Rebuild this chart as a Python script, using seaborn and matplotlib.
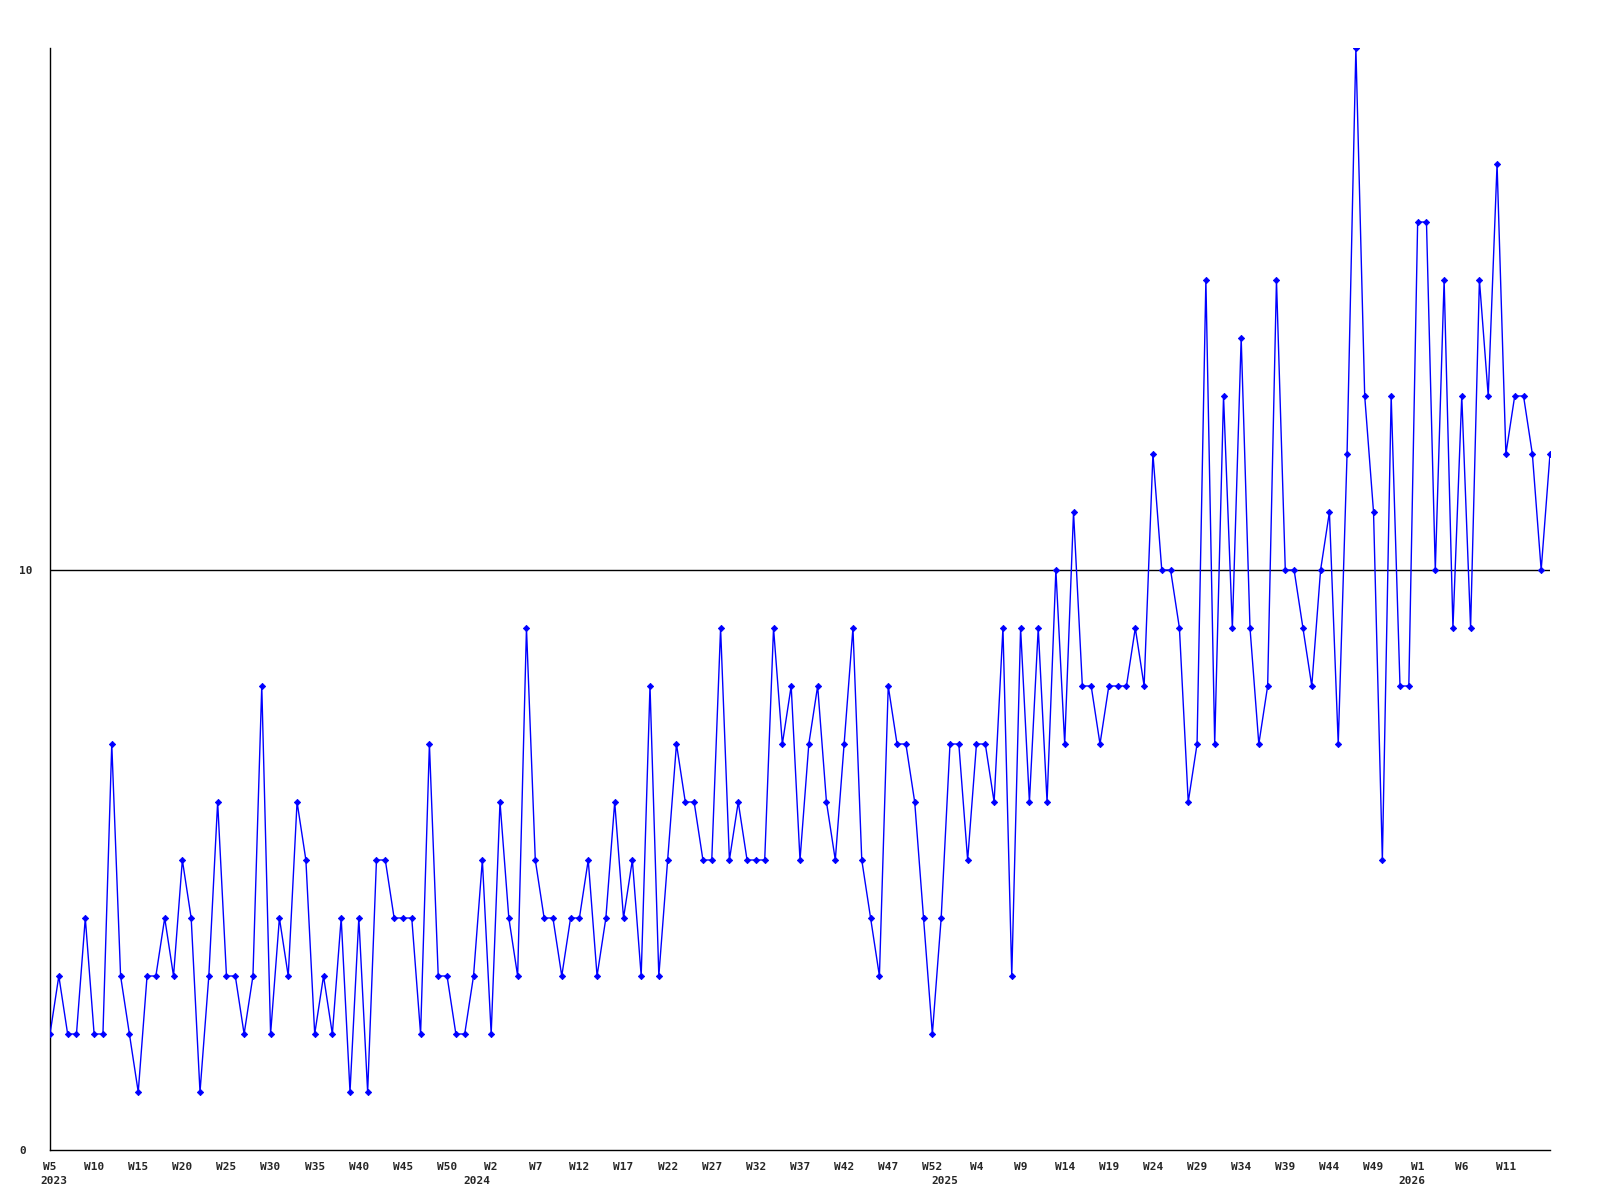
import matplotlib
matplotlib.use("Agg")
import matplotlib.pyplot as plt
import matplotlib.transforms as mtransforms
import numpy as np
import seaborn as sns

# weekly counts, 2023 W5 .. 2026 W16
counts = [2, 3, 2, 2, 4, 2, 2, 7, 3, 2, 1, 3, 3, 4, 3, 5, 4, 1, 3, 6, 3, 3,
          2, 3, 8, 2, 4, 3, 6, 5, 2, 3, 2, 4, 1, 4, 1, 5, 5, 4, 4, 4, 2, 7,
          3, 3, 2, 2, 3, 5, 2, 6, 4, 3, 9, 5, 4, 4, 3, 4, 4, 5, 3, 4, 6,
          4, 5, 3, 8, 3, 5, 7, 6, 6, 5, 5, 9, 5, 6, 5, 5, 5, 9, 7, 8, 5, 7,
          8, 6, 5, 7, 9, 5, 4, 3, 8, 7, 7, 6, 4, 2, 4, 7, 7, 5, 7, 7, 6,
          9, 3, 9, 6, 9, 6, 10, 7, 11, 8, 8, 7, 8, 8, 8, 9,
          8, 12, 10, 10, 9, 6, 7, 15, 7, 13, 9, 14, 9, 7, 8, 15,
          10, 10, 9, 8, 10, 11, 7, 12, 19, 13, 11, 5, 13, 8, 8,
          16, 16, 10, 15, 9, 13, 9, 15, 13, 17, 12, 13, 13, 12, 10, 12]

week_labels = ['W5', 'W10', 'W15', 'W20', 'W25', 'W30', 'W35', 'W40', 'W45', 'W50',
               'W2', 'W7', 'W12', 'W17', 'W22', 'W27', 'W32', 'W37', 'W42', 'W47', 'W52',
               'W4', 'W9', 'W14', 'W19', 'W24', 'W29', 'W34', 'W39', 'W44', 'W49',
               'W1', 'W6', 'W11']
years = ['2023', '2024', '2025', '2026']
year_pos = [0, 48, 101, 154]

sns.set_style("white")
plt.rcParams['font.family'] = ['DejaVu Sans Mono']

fig = plt.figure(figsize=(16, 12), dpi=100)
ax = fig.add_axes([50 / 1600, 50 / 1200, 1500 / 1600, 1102 / 1200])

x = np.arange(len(counts))
ax.axhline(10, color='black', linewidth=1, zorder=1)
sns.lineplot(x=x, y=counts, ax=ax, color='#0000ff', linewidth=1.0,
             marker='D', markersize=3.2, markeredgewidth=0.6,
             markeredgecolor='#0000ff', zorder=3)

ax.set_xlim(0, len(counts) - 1)
ax.set_ylim(0, 19)

ax.set_xticks(np.arange(0, len(counts) - 1, 5))
ax.set_xticklabels(week_labels, fontsize=8, fontweight='bold')
ax.set_yticks([0, 10])
ax.set_yticklabels(['0', '10'], fontsize=8, fontweight='bold')
for lab in ax.get_yticklabels():
    lab.set_horizontalalignment('left')
# week labels sit a little left of their tick in the original
offset = mtransforms.ScaledTranslation(-3 / 100, 0, fig.dpi_scale_trans)
for lab in ax.get_xticklabels():
    lab.set_transform(lab.get_transform() + offset)
ax.tick_params(axis='x', length=0, pad=9)
ax.tick_params(axis='y', length=0, pad=22)

trans = mtransforms.blended_transform_factory(ax.transData, ax.transAxes)
for pos, yr in zip(year_pos, years):
    ax.text(pos + 0.4, -0.028, yr, transform=trans, ha='center', va='center',
            fontsize=8, fontweight='bold')

for side in ['top', 'right']:
    ax.spines[side].set_visible(False)
for side in ['left', 'bottom']:
    ax.spines[side].set_color('black')
    ax.spines[side].set_linewidth(1)

ax.set_xlabel('')
ax.set_ylabel('')
fig.savefig('out.png', dpi=100, facecolor='white')
